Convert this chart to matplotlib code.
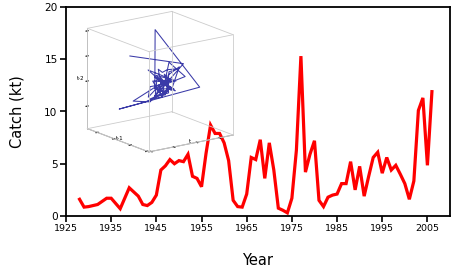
import itertools
import numpy as np
import matplotlib.pyplot as plt

years = list(range(1928, 2007))
catch = [1.6, 0.85, 0.9, 1.0, 1.1, 1.4, 1.7, 1.7, 1.2, 0.7,
         1.7, 2.7, 2.3, 1.9, 1.1, 1.0, 1.3, 2.0, 4.4, 4.8,
         5.4, 5.0, 5.3, 5.2, 5.9, 3.8, 3.6, 2.8, 6.0, 8.7,
         7.9, 7.9, 7.0, 5.3, 1.5, 0.9, 0.85, 2.1, 5.6, 5.4,
         7.3, 3.6, 7.0, 4.4, 0.75, 0.55, 0.3, 1.7, 6.3, 15.3,
         4.2, 5.9, 7.2, 1.5, 0.9, 1.8, 2.0, 2.1, 3.1, 3.1,
         5.2, 2.5, 4.75, 1.9, 3.8, 5.6, 6.1, 4.1, 5.6, 4.4,
         4.85, 4.0, 3.1, 1.6, 3.35, 10.1, 11.3, 4.85, 11.9]
xticks = [1925, 1935, 1945, 1955, 1965, 1975, 1985, 1995, 2005]
yticks = [0, 5, 10, 15, 20]
lag_labels = ["t", "t-1", "t-2"]

fig = plt.figure(figsize=(4.54, 2.68), dpi=100)
ax = fig.add_axes([66/454, 52/268, 384/454, 209/268])
ax.plot(years, catch, color="#ff0000", lw=2.3, solid_joinstyle="miter")
ax.set_xlim(1925, 2010)
ax.set_ylim(0, 20)
ax.set_xticks(xticks)
ax.set_yticks(yticks)
ax.tick_params(axis="x", labelsize=6.8, length=4, width=1.2, pad=2)
ax.tick_params(axis="y", labelsize=7.6, length=4, width=1.2, pad=2)
for s in ax.spines.values():
    s.set_linewidth(1.3)
ax.set_xlabel("Year", fontsize=10.5, labelpad=14)
ax.set_ylabel("Catch (kt)", fontsize=10.5, labelpad=14)

# inset: lagged embedding of the catch series (t, t-1, t-2)
c = np.array(catch)
lo, hi = -3, 15.5
ins = fig.add_axes([72/454, 98/268, 172/454, 172/268], projection="3d",
                   proj_type="ortho")
ins.set_box_aspect((1, 1, 1), zoom=1.02)
ins.view_init(elev=16, azim=54)
ins.plot(c[2:], c[1:-1], c[:-2], color="#3a3aa8", lw=0.75)
ins.set_xlim(lo, hi)
ins.set_ylim(lo, hi)
ins.set_zlim(lo - 1.5, hi)
# cube wireframe
zlo, zhi = ins.get_zlim()
for p, q in itertools.combinations(itertools.product((lo, hi), (lo, hi), (zlo, zhi)), 2):
    if sum(a != b for a, b in zip(p, q)) == 1:
        ins.plot(*zip(p, q), color="#cccccc", lw=0.6)
for a in (ins.xaxis, ins.yaxis, ins.zaxis):
    a.set_pane_color((1, 1, 1, 0))
    a.line.set_color("#8a8a8a")
    a.line.set_linewidth(0.7)
    a._axinfo["grid"]["color"] = (1, 1, 1, 0)
    a._axinfo["tick"]["color"] = "#8a8a8a"
ins.set_xticklabels([])
ins.set_yticklabels([])
ins.set_zticklabels([])
ins.set_xlabel(lag_labels[0], fontsize=4, labelpad=-22)
ins.set_ylabel(lag_labels[1], fontsize=4, labelpad=-22)
ins.set_zlabel(lag_labels[2], fontsize=4, labelpad=-18)
ins.patch.set_alpha(0)

fig.savefig("out.png", dpi=100)
